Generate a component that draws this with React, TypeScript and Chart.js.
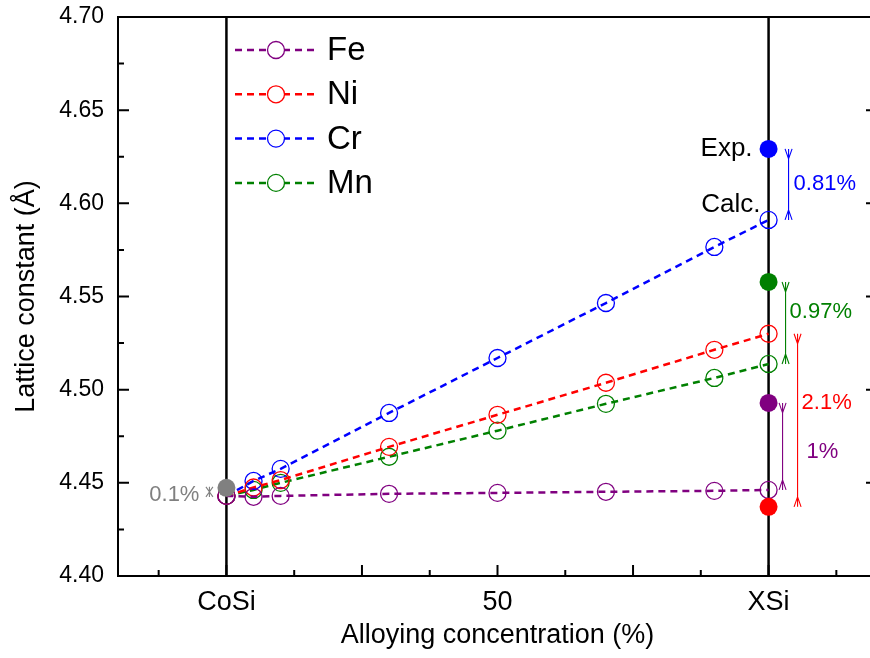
import { useEffect, useRef } from 'react';
import { Chart, registerables } from 'chart.js';

Chart.register(...registerables);

// ---------- data ----------
const concentrations = [0, 5, 10, 30, 50, 70, 90, 100];
const feCalc = [4.443, 4.4425, 4.443, 4.4441, 4.4446, 4.4452, 4.4457, 4.4462];
const niCalc = [4.443, 4.4475, 4.4515, 4.4693, 4.4865, 4.5037, 4.5214, 4.53];
const crCalc = [4.443, 4.451, 4.4575, 4.4875, 4.517, 4.5465, 4.5766, 4.5911];
const mnCalc = [4.443, 4.4462, 4.45, 4.464, 4.478, 4.4924, 4.5063, 4.5138];
const seriesNames = ['Fe', 'Ni', 'Cr', 'Mn'];
const seriesColors = ['#800080', '#ff0000', '#0000ff', '#008000'];
const expConcentration = 100;
const expValues = [4.4929, 4.4371, 4.6292, 4.5578]; // Fe, Ni, Cr, Mn (experiment, XSi)
const deviationLabels = ['1%', '2.1%', '0.81%', '0.97%'];
const cosiConcentration = 0;
const cosiExp = 4.4473;
const cosiCalc = 4.443;
const cosiDeviation = '0.1%';
const cosiColor = '#808080';
const xTickValues = [0, 50, 100];
const xTickLabels = ['CoSi', '50', 'XSi'];
const yMin = 4.4;
const yMax = 4.7;
const yStep = 0.05;

const FONT = '"Liberation Sans", Arial, sans-serif';
const calcSeries = [feCalc, niCalc, crCalc, mnCalc];

export default function App() {
  const ref = useRef<HTMLCanvasElement | null>(null);

  useEffect(() => {
    document.body.style.margin = '0';
    const canvas = ref.current;
    if (!canvas) return;

    const framePlugin = {
      id: 'frameAndDecor',
      beforeDatasetsDraw(chart: any) {
        const { ctx, chartArea } = chart;
        const xs = chart.scales.x;
        ctx.save();
        ctx.strokeStyle = '#000';
        ctx.lineWidth = 2.5;
        for (const v of [cosiConcentration, expConcentration]) {
          const px = xs.getPixelForValue(v);
          ctx.beginPath();
          ctx.moveTo(px, chartArea.top);
          ctx.lineTo(px, chartArea.bottom);
          ctx.stroke();
        }
        ctx.restore();
      },
      afterDraw(chart: any) {
        const { ctx, chartArea } = chart;
        const xs = chart.scales.x;
        const ys = chart.scales.y;
        const { left, right, top, bottom } = chartArea;
        ctx.save();
        // frame
        ctx.strokeStyle = '#000';
        ctx.lineWidth = 2;
        ctx.strokeRect(left, top, right - left, bottom - top);
        // x ticks (inward, bottom)
        ctx.lineWidth = 2;
        for (let v = -25; v <= 125; v += 12.5) {
          if (v <= xs.min || v >= xs.max) continue;
          const px = xs.getPixelForValue(v);
          const major = Math.abs(v % 25) < 1e-9;
          const len = major ? 11 : 6;
          ctx.beginPath();
          ctx.moveTo(px, bottom);
          ctx.lineTo(px, bottom - len);
          ctx.stroke();
        }
        // y ticks (inward, left & right)
        for (let i = 1; i < Math.round((yMax - yMin) / (yStep / 2)); i++) {
          const v = yMin + i * (yStep / 2);
          const py = ys.getPixelForValue(v);
          const len = i % 2 === 0 ? 11 : 6;
          ctx.beginPath();
          ctx.moveTo(left, py);
          ctx.lineTo(left + len, py);
          ctx.moveTo(right, py);
          ctx.lineTo(right - len, py);
          ctx.stroke();
        }

        // legend
        const legX0 = left + 117;
        const legX1 = left + 200;
        const legC = left + 158;
        const legTop = top + 33;
        ctx.font = `33px ${FONT}`;
        ctx.textBaseline = 'middle';
        ctx.textAlign = 'left';
        seriesNames.forEach((name, i) => {
          const y = legTop + i * 44.3;
          ctx.strokeStyle = seriesColors[i];
          ctx.lineWidth = 2.5;
          ctx.setLineDash([7, 5]);
          ctx.beginPath();
          ctx.moveTo(legX0, y);
          ctx.lineTo(legX1, y);
          ctx.stroke();
          ctx.setLineDash([]);
          ctx.fillStyle = '#fff';
          ctx.lineWidth = 1.3;
          ctx.beginPath();
          ctx.arc(legC, y, 8.5, 0, Math.PI * 2);
          ctx.fill();
          ctx.stroke();
          ctx.fillStyle = '#000';
          ctx.fillText(name, legX1 + 9, y + 1);
        });

        // deviation brackets at XSi
        const xPx = xs.getPixelForValue(expConcentration);
        const layout = [
          { dx: 14, tx: 38, dy: 6 },
          { dx: 29, tx: 33, dy: -17 },
          { dx: 20, tx: 25, dy: 0 },
          { dx: 17, tx: 21, dy: -11 },
        ];
        const drawBracket = (x: number, y0: number, y1: number, color: string, arm = 10) => {
          const a = Math.min(y0, y1);
          const b = Math.max(y0, y1);
          ctx.strokeStyle = color;
          ctx.lineWidth = 1.1;
          ctx.beginPath();
          ctx.moveTo(x, a);
          ctx.lineTo(x, b);
          ctx.moveTo(x - 3.5, a);
          ctx.lineTo(x, a + arm);
          ctx.lineTo(x + 3.5, a);
          ctx.moveTo(x - 3.5, b);
          ctx.lineTo(x, b - arm);
          ctx.lineTo(x + 3.5, b);
          ctx.stroke();
        };
        ctx.font = `22px ${FONT}`;
        seriesNames.forEach((_, i) => {
          const calc = calcSeries[i][concentrations.indexOf(expConcentration)];
          const y0 = ys.getPixelForValue(expValues[i]);
          const y1 = ys.getPixelForValue(calc);
          const L = layout[i];
          drawBracket(xPx + L.dx, y0, y1, seriesColors[i]);
          ctx.fillStyle = seriesColors[i];
          ctx.textAlign = 'left';
          ctx.fillText(deviationLabels[i], xPx + L.tx, (y0 + y1) / 2 + L.dy);
        });

        // CoSi deviation
        const cPx = xs.getPixelForValue(cosiConcentration);
        const c0 = ys.getPixelForValue(cosiExp);
        const c1 = ys.getPixelForValue(cosiCalc);
        drawBracket(cPx - 17, c0 - 1, c1 + 1, cosiColor, 5);
        ctx.fillStyle = cosiColor;
        ctx.textAlign = 'right';
        ctx.fillText(cosiDeviation, cPx - 27, (c0 + c1) / 2 + 3);

        // Exp. / Calc. labels
        const crIdx = seriesNames.indexOf('Cr');
        const eY = ys.getPixelForValue(expValues[crIdx]);
        const cY = ys.getPixelForValue(crCalc[concentrations.indexOf(expConcentration)]);
        ctx.font = `26px ${FONT}`;
        ctx.fillStyle = '#000';
        ctx.textAlign = 'right';
        ctx.fillText('Exp.', xPx - 16, eY);
        ctx.fillText('Calc.', xPx - 8, cY - 15);
        ctx.restore();
      },
    };

    const expDatasets = expValues.map((v, i) => ({
      type: 'line' as const,
      label: seriesNames[i] + ' exp',
      data: [{ x: expConcentration, y: v }],
      showLine: false,
      pointRadius: 9,
      pointBorderWidth: 0,
      pointBackgroundColor: seriesColors[i],
      pointBorderColor: seriesColors[i],
    }));
    const cosiDataset = {
      type: 'line' as const,
      label: 'CoSi exp',
      data: [{ x: cosiConcentration, y: cosiExp }],
      showLine: false,
      pointRadius: 9,
      pointBorderWidth: 0,
      pointBackgroundColor: cosiColor,
      pointBorderColor: cosiColor,
    };
    const calcDatasets = calcSeries.map((arr, i) => ({
      type: 'line' as const,
      label: seriesNames[i],
      data: concentrations.map((x, j) => ({ x, y: arr[j] })),
      borderColor: seriesColors[i],
      borderWidth: 2.5,
      borderDash: [7, 5],
      fill: false,
      tension: 0,
      pointRadius: 8.5,
      pointBorderWidth: 1.3,
      pointBackgroundColor: 'rgba(0,0,0,0)',
      pointBorderColor: seriesColors[i],
    }));

    const chart = new Chart(canvas, {
      type: 'line',
      data: { datasets: [cosiDataset, ...expDatasets, ...calcDatasets] as any },
      options: {
        animation: false,
        responsive: false,
        devicePixelRatio: 1,
        layout: { autoPadding: false, padding: { left: 0, right: 3, top: 17, bottom: 0 } },
        plugins: { legend: { display: false }, tooltip: { enabled: false } },
        scales: {
          x: {
            type: 'linear',
            min: -20,
            max: 120,
            grid: { display: false, drawTicks: false },
            border: { display: false },
            afterBuildTicks: (s: any) => {
              s.ticks = xTickValues.map((v) => ({ value: v }));
            },
            afterFit: (s: any) => {
              s.height = 82;
              s.paddingLeft = 0;
              s.paddingRight = 0;
              s.paddingTop = 0;
              s.paddingBottom = 0;
            },
            ticks: {
              autoSkip: false,
              maxRotation: 0,
              padding: 10,
              color: '#000',
              font: { family: FONT, size: 27 },
              callback: (v: any) => {
                const k = xTickValues.indexOf(Number(v));
                return k >= 0 ? xTickLabels[k] : '';
              },
            },
            title: {
              display: true,
              text: 'Alloying concentration (%)',
              color: '#000',
              font: { family: FONT, size: 27 },
              padding: { top: 0, bottom: 6 },
            },
          },
          y: {
            type: 'linear',
            min: yMin,
            max: yMax,
            grid: { display: false, drawTicks: false },
            border: { display: false },
            afterFit: (s: any) => {
              s.width = 118;
              s.paddingLeft = 0;
              s.paddingRight = 0;
              s.paddingTop = 0;
              s.paddingBottom = 0;
            },
            ticks: {
              stepSize: yStep,
              padding: 14,
              color: '#000',
              font: { family: FONT, size: 23 },
              callback: (v: any) => Number(v).toFixed(2),
            },
            title: {
              display: true,
              text: 'Lattice constant (Å)',
              color: '#000',
              font: { family: FONT, size: 27 },
              padding: { top: 10, bottom: 0 },
            },
          },
        },
      },
      plugins: [framePlugin],
    });
    return () => chart.destroy();
  }, []);

  return (
    <div style={{ width: 870, height: 658, overflow: 'hidden', background: '#fff' }}>
      <canvas ref={ref} width={880} height={658} style={{ display: 'block' }} />
    </div>
  );
}
